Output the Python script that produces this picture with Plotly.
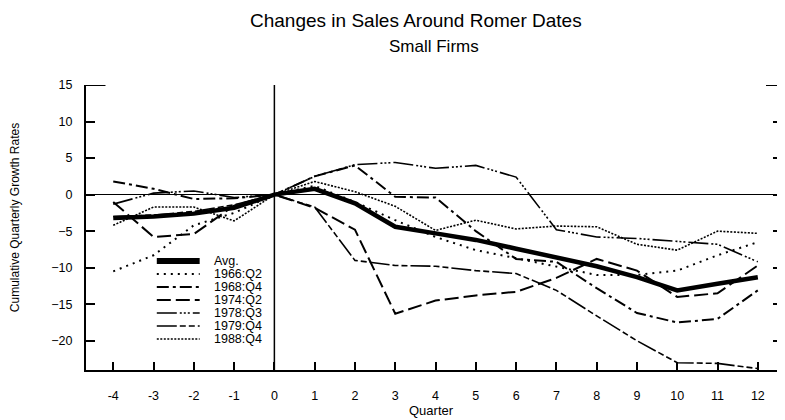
import plotly.graph_objects as go

quarters = list(range(-4, 13))
tick_labels = [str(q) for q in quarters]
y_ticks = [15, 10, 5, 0, -5, -10, -15, -20]

avg = [-3.2, -3.0, -2.6, -1.8, 0, 0.8, -1.2, -4.4, -5.3, -6.2, -7.4, -8.6, -9.8, -11.3, -13.1, -12.2, -11.3]
s1966q2 = [-10.5, -8.3, -4.2, -2.5, 0, 1.2, -1.0, -3.5, -5.8, -7.6, -8.7, -9.8, -11.0, -11.0, -10.4, -8.3, -6.5]
s1968q4 = [1.8, 0.8, -0.6, -0.5, 0, 2.5, 4.0, -0.3, -0.4, -5.0, -8.8, -9.2, -12.8, -16.2, -17.5, -17.0, -13.1]
s1974q2 = [-1.0, -5.8, -5.4, -1.5, 0, -1.8, -4.8, -16.3, -14.5, -13.8, -13.3, -11.4, -8.8, -10.4, -14.0, -13.5, -9.7]
s1978q3 = [-1.3, 0.2, 0.5, -0.4, 0, 2.5, 4.1, 4.4, 3.6, 4.0, 2.4, -4.8, -5.8, -6.0, -6.4, -6.8, -9.2]
s1979q4 = [-3.0, -2.8, -2.3, -1.4, 0, -1.7, -9.0, -9.7, -9.8, -10.4, -10.8, -13.1, -16.6, -20.0, -23.0, -23.1, -23.8]
s1988q4 = [-4.2, -1.7, -1.7, -3.6, 0, 1.8, 0.4, -1.6, -4.9, -3.5, -4.7, -4.3, -4.4, -6.8, -7.6, -5.0, -5.3]

series_names = ["Avg.", "1966:Q2", "1968:Q4", "1974:Q2", "1978:Q3", "1979:Q4", "1988:Q4"]
series_values = [avg, s1966q2, s1968q4, s1974q2, s1978q3, s1979q4, s1988q4]
line_widths = [4.5, 2, 2, 2, 1.6, 1.6, 1.6]
line_dashes = ["solid", "2px,5px", "12px,4px,3px,4px", "14px,5px",
               "20px,3px,2px,2px,2px,2px,2px,3px", "20px,3px,6px,3px,6px,3px", "2px,1.5px"]

FONT = "Liberation Sans, Arial, Helvetica, sans-serif"

# page body has an 8px margin; compensate so the plot lands where the reference has it
W, H = 777, 412
ML, MR, MT, MB = 78, 1, 77, 50
PW, PH = W - ML - MR, H - MT - MB

def px_x(wx):
    return (wx - 8 - ML) / PW

def px_y(wy):
    return (H - MB - (wy - 8)) / PH

fig = go.Figure()
for name, vals, w, dash in zip(series_names, series_values, line_widths, line_dashes):
    fig.add_trace(go.Scatter(x=quarters, y=vals, mode="lines", name=name, showlegend=False,
                             line=dict(color="black", width=w, dash=dash)))

XMIN, XMAX = -4.676, 12.6
YMIN, YMAX = -24, 15

fig.update_layout(
    width=W, height=H,
    margin=dict(l=ML, r=MR, t=MT, b=MB),
    paper_bgcolor="white", plot_bgcolor="white",
    font=dict(family=FONT, color="black", size=12),
    showlegend=False,
    xaxis=dict(range=[XMIN, XMAX], tickmode="array", tickvals=quarters, ticktext=tick_labels,
               ticks="inside", ticklen=8, tickwidth=2, tickcolor="black",
               showline=True, linecolor="black", linewidth=2, showgrid=False, zeroline=False,
               ticklabelstandoff=13, tickfont=dict(size=12.5)),
    yaxis=dict(range=[YMIN, YMAX], tickmode="array", tickvals=y_ticks,
               ticks="inside", ticklen=9, tickwidth=2, tickcolor="black",
               showline=True, linecolor="black", linewidth=2, mirror="ticks",
               showgrid=False, zeroline=True, zerolinecolor="black", zerolinewidth=1,
               ticklabelstandoff=9, tickfont=dict(size=12.5)),
)

annotations = [
    dict(text="Changes in Sales Around Romer Dates", x=px_x(417), y=px_y(21),
         font=dict(size=19)),
    dict(text="Small Firms", x=px_x(435), y=px_y(46), font=dict(size=17)),
    dict(text="Cumulative Quarterly Growth Rates", x=px_x(15), y=px_y(218),
         textangle=-90, font=dict(size=12)),
    dict(text="Quarter", x=px_x(432), y=px_y(410), font=dict(size=13)),
]
for a in annotations:
    a.update(xref="paper", yref="paper", xanchor="center", yanchor="middle", showarrow=False)
    fig.add_annotation(**a)

# vertical reference line at quarter 0
fig.add_shape(type="line", xref="x", yref="paper", x0=0, x1=0, y0=0, y1=1,
              line=dict(color="black", width=1.5))
# longer top tick marks at 15 on both sides
fig.add_shape(type="line", xref="paper", yref="y", x0=0, x1=0.028, y0=15, y1=15,
              line=dict(color="black", width=2))
fig.add_shape(type="line", xref="paper", yref="y", x0=0.977, x1=1, y0=15, y1=15,
              line=dict(color="black", width=2))

# legend (compact, as in the reference)
LEG_TOP, LEG_STEP = 261, 13
for i, (name, w, dash) in enumerate(zip(series_names, line_widths, line_dashes)):
    wy = LEG_TOP + i * LEG_STEP
    fig.add_shape(type="line", xref="paper", yref="paper",
                  x0=px_x(157), x1=px_x(200), y0=px_y(wy), y1=px_y(wy),
                  line=dict(color="black", width=(6 if i == 0 else w), dash=dash))
    fig.add_annotation(text=name, xref="paper", yref="paper", x=px_x(212), y=px_y(wy),
                       xanchor="left", yanchor="middle", showarrow=False,
                       font=dict(size=12.5))

fig.write_html("out.html")
